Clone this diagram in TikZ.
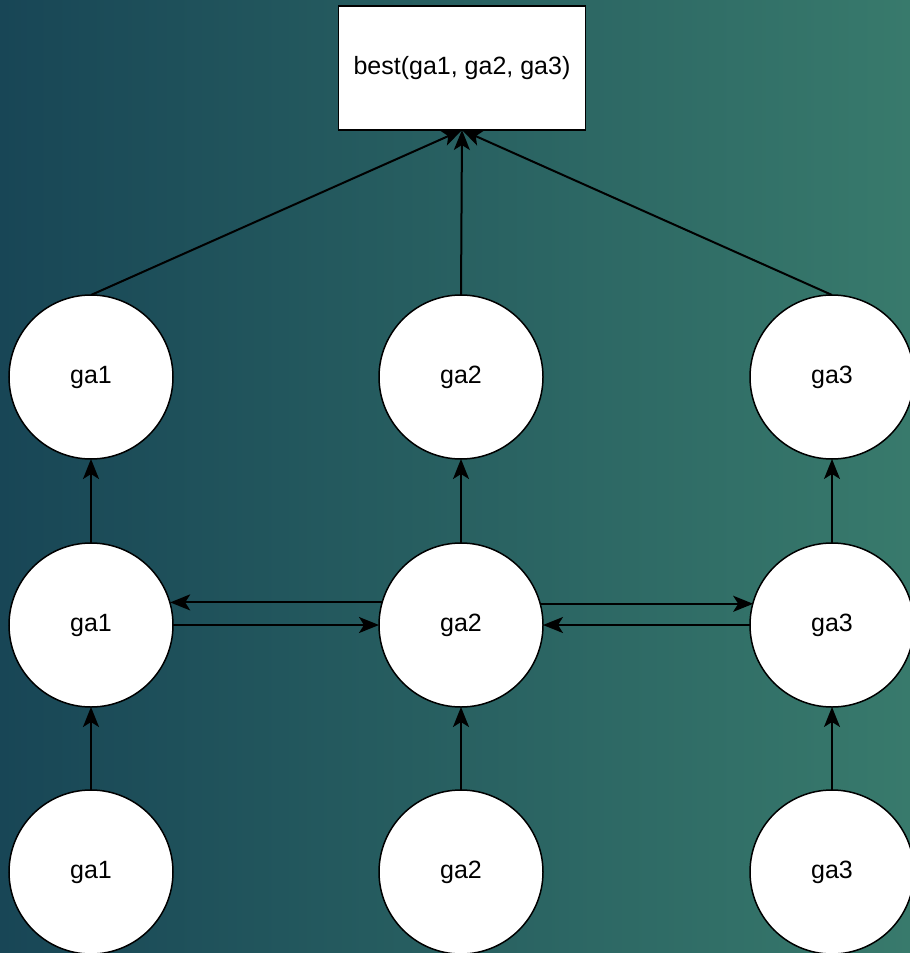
\documentclass[tikz,border=0pt]{standalone}
\usepackage{fontspec}
\setmainfont{Liberation Sans}
\usetikzlibrary{arrows.meta,calc}
\definecolor{bgleft}{HTML}{184656}
\definecolor{bgright}{HTML}{387A6C}
\begin{document}
\begin{tikzpicture}[x=1pt,y=-1pt,
  gacircle/.style={circle,draw=black,line width=1.5pt,fill=white,minimum size=164pt,inner sep=0pt,outer sep=0pt,font=\fontsize{25}{29}\selectfont},
  bestbox/.style={rectangle,draw=black,line width=1.5pt,fill=white,minimum width=247pt,minimum height=124pt,inner sep=0pt,outer sep=0pt,font=\fontsize{25}{29}\selectfont},
  conn/.style={line width=2pt,draw=black,-{Stealth[length=20pt,width=16pt,inset=5pt]}}]
\useasboundingbox (0,0) rectangle (910,953);
\shade[left color=bgleft,right color=bgright] (0,0) rectangle (910,953);
\node[bestbox] (best) at (462,68) {best(ga1, ga2, ga3)};
\node[gacircle] (t1) at (91,377) {ga1};
\node[gacircle] (t2) at (461,377) {ga2};
\node[gacircle] (t3) at (832,377) {ga3};
\node[gacircle] (m1) at (91,625) {ga1};
\node[gacircle] (m2) at (461,625) {ga2};
\node[gacircle] (m3) at (832,625) {ga3};
\node[gacircle] (b1) at (91,872) {ga1};
\node[gacircle] (b2) at (461,872) {ga2};
\node[gacircle] (b3) at (832,872) {ga3};
\draw[conn] (b1) -- (m1);
\draw[conn] (b2) -- (m2);
\draw[conn] (b3) -- (m3);
\draw[conn] (m1) -- (t1);
\draw[conn] (m2) -- (t2);
\draw[conn] (m3) -- (t3);
\draw[conn] (m2.164.44) -- (m2.164.44 -| m1.15.56);
\draw[conn] (m1.east) -- (m2.west);
\draw[conn] (m2.15.56) -- (m2.15.56 -| m3.164.44);
\draw[conn] (m3.west) -- (m2.east);
\draw[conn] (t1.north) -- (best.south);
\draw[conn] (t2.north) -- (best.south);
\draw[conn] (t3.north) -- (best.south);
\end{tikzpicture}
\end{document}
